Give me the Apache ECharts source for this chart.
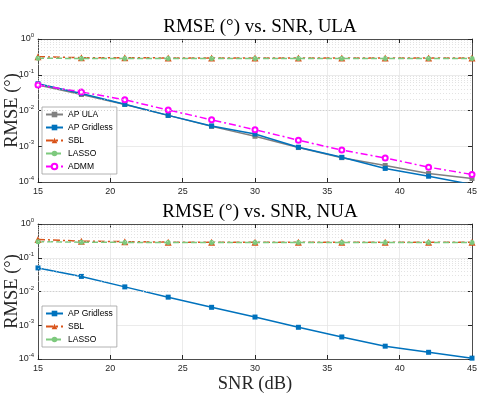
<!DOCTYPE html>
<html>
<head>
<meta charset="utf-8">
<script src="https://cdn.jsdelivr.net/npm/echarts@6/dist/echarts.min.js"></script>
<style>
  html, body { margin: 0; padding: 0; background: #fff; }
  #chart { width: 485px; height: 394px; }
</style>
</head>
<body>
<div id="chart"></div>
<script>
// SNR (dB) on the x axis
let snr = [15, 18, 21, 24, 27, 30, 33, 36, 39, 42, 45];

// ULA panel
let ula_ap_ula = [0.052, 0.028, 0.0148, 0.0073, 0.0036, 0.0019, 0.00092, 0.00048, 0.00029, 0.000173, 0.000125];
let ula_ap_gridless = [0.056, 0.030, 0.0149, 0.0073, 0.0037, 0.0022, 0.00094, 0.00049, 0.00024, 0.000145, 0.000085];
let ula_sbl = [0.32, 0.30, 0.30, 0.295, 0.295, 0.295, 0.295, 0.295, 0.295, 0.295, 0.295];
let ula_lasso = [0.29, 0.285, 0.285, 0.285, 0.285, 0.285, 0.285, 0.285, 0.285, 0.285, 0.285];
let ula_admm = [0.052, 0.033, 0.020, 0.0103, 0.0055, 0.0029, 0.00148, 0.00078, 0.00047, 0.00026, 0.000162];

// NUA panel
let nua_ap_gridless = [0.05, 0.028, 0.0137, 0.0068, 0.0034, 0.00175, 0.00087, 0.00045, 0.00024, 0.000158, 0.000106];
let nua_sbl = [0.35, 0.31, 0.30, 0.29, 0.29, 0.29, 0.29, 0.29, 0.29, 0.29, 0.29];
let nua_lasso = [0.30, 0.29, 0.285, 0.285, 0.285, 0.285, 0.285, 0.285, 0.285, 0.285, 0.285];

function pairs(vals){
    return snr.map(function(s, i){ return [s, vals[i]]; });
}

// minor log grid lines 2..9 x 10^k
let minor_vals = [];
for (let k = -4; k < 0; ++k){
    for (let m = 2; m <= 9; ++m){
        minor_vals.push(m * Math.pow(10, k));
    }
}

const sans = 'Liberation Sans';
const serif = 'Liberation Serif';
const dashdot = [7, 3, 2, 3];

function logLabel(v){
    let e = Math.round(Math.log10(v));
    return '{b|10}{s|' + e + '}';
}

const yLabel = {
    formatter: logLabel,
    margin: 4,
    rich: {
        b: { fontFamily: sans, fontSize: 9, color: '#262626' },
        s: { fontFamily: sans, fontSize: 6, color: '#262626', padding: [0, 0, 7, 0] }
    }
};

function xAxisMain(idx, name){
    return {
        type: 'value', gridIndex: idx, min: 15, max: 45, interval: 5,
        name: name || '', nameLocation: 'middle', nameGap: 16, nameMoveOverlap: false,
        nameTextStyle: { fontFamily: serif, fontSize: 18.5, color: '#262626' },
        axisLine: { lineStyle: { color: '#262626', width: 0.8 } },
        axisTick: { inside: true, length: 4, lineStyle: { color: '#262626' } },
        axisLabel: { fontFamily: sans, fontSize: 9, color: '#262626', margin: 5 },
        splitLine: { show: true, lineStyle: { color: '#e6e6e6', width: 0.8 } }
    };
}
function xAxisTop(idx){
    return {
        type: 'value', gridIndex: idx, min: 15, max: 45, interval: 5, position: 'top',
        axisLine: { show: true, lineStyle: { color: '#262626', width: 0.8 } },
        axisTick: { inside: true, length: 4, lineStyle: { color: '#262626' } },
        axisLabel: { show: false }, splitLine: { show: false }
    };
}
function yAxisMain(idx){
    return {
        type: 'log', gridIndex: idx, min: 1e-4, max: 1, logBase: 10,
        name: 'RMSE (°)', nameLocation: 'middle', nameGap: 16, nameMoveOverlap: false,
        nameTextStyle: { fontFamily: serif, fontSize: 18.5, color: '#262626' },
        axisLine: { show: true, lineStyle: { color: '#262626', width: 0.8 } },
        axisTick: { inside: true, length: 4, lineStyle: { color: '#262626' } },
        axisLabel: yLabel,
        splitLine: { show: true, lineStyle: { color: '#e6e6e6', width: 0.8 } }
    };
}
function yAxisRight(idx){
    return {
        type: 'log', gridIndex: idx, min: 1e-4, max: 1, logBase: 10, position: 'right',
        axisLine: { show: true, lineStyle: { color: '#262626', width: 0.8 } },
        axisTick: { inside: true, length: 4, lineStyle: { color: '#262626' } },
        axisLabel: { show: false }, splitLine: { show: false }
    };
}

function lineSeries(name, vals, xi, yi, color, dash, symbol, size){
    return {
        name: name, type: 'line', xAxisIndex: xi, yAxisIndex: yi,
        data: pairs(vals), symbol: symbol, symbolSize: size,
        lineStyle: { color: color, width: 1.5, type: dash },
        itemStyle: { color: color, borderWidth: 1.3 },
        z: 3
    };
}

function minorSeries(xi, yi){
    return {
        type: 'line', xAxisIndex: xi, yAxisIndex: yi, data: [], silent: true,
        markLine: {
            silent: true, symbol: 'none', label: { show: false },
            lineStyle: { color: '#d0d0d0', width: 0.6, type: [1, 2] },
            data: minor_vals.map(function(v){ return { yAxis: v }; })
        },
        z: 1
    };
}

const legendBase = {
    orient: 'vertical', left: 42,
    backgroundColor: '#fff', borderColor: '#a0a0a0', borderWidth: 0.8,
    padding: [3, 4, 3, 3], itemGap: 4, itemWidth: 17, itemHeight: 7,
    textStyle: { fontFamily: sans, fontSize: 8.5, color: '#000' }
};

const titleStyle = { fontFamily: serif, fontSize: 19, fontWeight: 'normal', color: '#000' };

const Chart = echarts.init(document.getElementById('chart'));
const option = {
    animation: false,
    title: [
        { text: 'RMSE (°) vs. SNR, ULA', left: 255, textAlign: 'center', top: 13, textStyle: titleStyle },
        { text: 'RMSE (°) vs. SNR, NUA', left: 255, textAlign: 'center', top: 198, textStyle: titleStyle }
    ],
    grid: [
        { left: 38, right: 13, top: 39, height: 143, outerBoundsMode: 'none', containLabel: false },
        { left: 38, right: 13, top: 224, height: 135, outerBoundsMode: 'none', containLabel: false }
    ],
    legend: [
        Object.assign({}, legendBase, { top: 107, data: ['AP ULA', 'AP Gridless', 'SBL', 'LASSO', 'ADMM'] }),
        Object.assign({}, legendBase, { top: 306, data: ['AP Gridless', 'SBL', 'LASSO'] })
    ],
    xAxis: [xAxisMain(0), xAxisTop(0), xAxisMain(1, 'SNR (dB)'), xAxisTop(1)],
    yAxis: [yAxisMain(0), yAxisRight(0), yAxisMain(1), yAxisRight(1)],
    series: [
        minorSeries(0, 0),
        minorSeries(2, 2),
        lineSeries('AP ULA', ula_ap_ula, 0, 0, '#808080', 'solid', 'rect', 5),
        lineSeries('AP Gridless', ula_ap_gridless, 0, 0, '#0072BD', 'solid', 'rect', 5),
        lineSeries('SBL', ula_sbl, 0, 0, '#D95319', dashdot, 'triangle', 7),
        lineSeries('LASSO', ula_lasso, 0, 0, '#7DC97D', [6, 3], 'circle', 5),
        lineSeries('ADMM', ula_admm, 0, 0, '#FF00FF', dashdot, 'emptyCircle', 5),
        lineSeries('AP Gridless', nua_ap_gridless, 2, 2, '#0072BD', 'solid', 'rect', 5),
        lineSeries('SBL', nua_sbl, 2, 2, '#D95319', dashdot, 'triangle', 7),
        lineSeries('LASSO', nua_lasso, 2, 2, '#7DC97D', [6, 3], 'circle', 5)
    ]
};
Chart.setOption(option);
</script>
</body>
</html>
